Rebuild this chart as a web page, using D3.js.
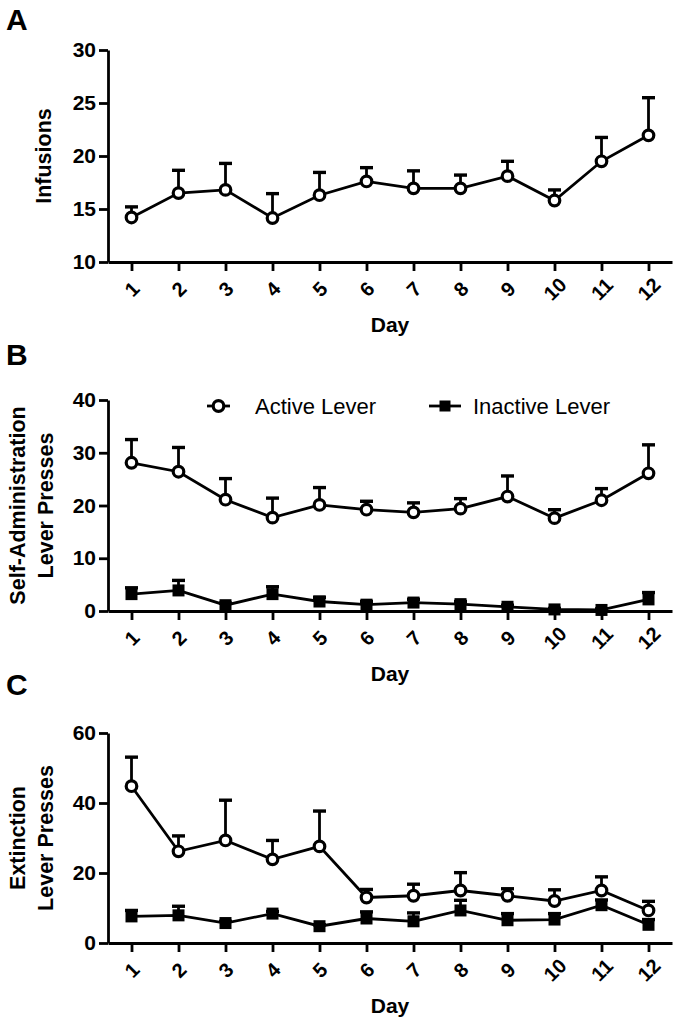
<!DOCTYPE html>
<html>
<head>
<meta charset="utf-8">
<script src="https://cdn.jsdelivr.net/npm/d3@7"></script>
<style>
  html, body { margin: 0; padding: 0; background: #fff; }
  svg { display: block; font-family: "Liberation Sans", Arial, sans-serif; }
</style>
</head>
<body>
<svg id="chart" width="675" height="1020"></svg>
<script>
// ---------------- DATA ----------------
const days = [1, 2, 3, 4, 5, 6, 7, 8, 9, 10, 11, 12];

const infusionsMean = [14.2, 16.5, 16.8, 14.15, 16.3, 17.6, 16.95, 16.95, 18.1, 15.8, 19.5, 21.95];
const infusionsSEM  = [1.0, 2.15, 2.5, 2.3, 2.15, 1.3, 1.65, 1.25, 1.4, 1.0, 2.25, 3.55];

const saActiveMean   = [28.1, 26.4, 21.1, 17.7, 20.1, 19.2, 18.7, 19.4, 21.7, 17.6, 21.0, 26.1];
const saActiveSEM    = [4.4, 4.6, 4.0, 3.7, 3.3, 1.6, 1.8, 1.9, 3.9, 1.6, 2.2, 5.4];
const saInactiveMean = [3.2, 3.9, 1.1, 3.2, 1.8, 1.2, 1.6, 1.3, 0.8, 0.3, 0.2, 2.2];
const saInactiveSEM  = [1.2, 1.9, 0.4, 1.4, 0.8, 0.6, 0.6, 0.5, 0.3, 0.2, 0.2, 1.3];

const extActiveMean   = [44.8, 26.2, 29.3, 23.9, 27.6, 13.0, 13.5, 15.0, 13.5, 12.0, 15.0, 9.3];
const extActiveSEM    = [8.3, 4.4, 11.5, 5.4, 10.1, 2.3, 3.3, 5.1, 2.0, 3.2, 3.9, 2.6];
const extInactiveMean = [7.6, 7.9, 5.7, 8.4, 4.8, 7.0, 6.2, 9.3, 6.5, 6.7, 10.8, 5.2];
const extInactiveSEM  = [1.7, 2.6, 0.5, 0.6, 0.4, 1.9, 2.4, 2.9, 1.9, 1.7, 1.5, 1.5];

const ticksA = [10, 15, 20, 25, 30];
const ticksB = [0, 10, 20, 30, 40];
const ticksC = [0, 20, 40, 60];

const legendLabels = ["Active Lever", "Inactive Lever"];
const xTitle = "Day";

// ---------------- DRAWING ----------------
const svg = d3.select("#chart");
const FONT = '"Liberation Sans", Arial, sans-serif';
const SW = 2.8;

const x = d3.scaleLinear().domain([0.5, 12.5]).range([108, 672]);

function drawPanel(opts) {
  const g = svg.append("g");
  const y = d3.scaleLinear().domain(opts.domain).range([opts.bottom, opts.top]);

  // x axis
  const xa = g.append("g")
    .attr("transform", `translate(0,${opts.bottom})`)
    .call(d3.axisBottom(x).tickValues(days).tickSize(9).tickSizeOuter(0).tickFormat(d3.format("d")));
  xa.select(".domain").attr("stroke", "#000").attr("stroke-width", SW);
  xa.selectAll(".tick line").attr("stroke", "#000").attr("stroke-width", SW);
  xa.selectAll(".tick text")
    .attr("y", 0).attr("dy", "0.35em")
    .attr("transform", "translate(0,27) rotate(-45)")
    .attr("text-anchor", "middle")
    .attr("font-family", FONT).attr("font-size", 20).attr("font-weight", "bold").attr("fill", "#000");

  // y axis
  const ya = g.append("g")
    .attr("transform", `translate(108,0)`)
    .call(d3.axisLeft(y).tickValues(opts.ticks).tickSize(9).tickSizeOuter(0).tickPadding(3).tickFormat(d3.format("d")));
  ya.select(".domain").attr("stroke", "#000").attr("stroke-width", SW);
  ya.selectAll(".tick line").attr("stroke", "#000").attr("stroke-width", SW);
  ya.selectAll(".tick text")
    .attr("font-family", FONT).attr("font-size", 21).attr("font-weight", "bold").attr("fill", "#000");

  // x title
  g.append("text")
    .attr("x", 390).attr("y", opts.bottom + 70)
    .attr("text-anchor", "middle")
    .attr("font-family", FONT).attr("font-size", 21).attr("font-weight", "bold")
    .text(xTitle);

  // y title
  const cy = (opts.top + opts.bottom) / 2;
  opts.yTitle.forEach((line, i) => {
    const cx = opts.yTitle.length === 1 ? 43 : (i === 0 ? 17 : 45);
    g.append("text")
      .attr("transform", `translate(${cx},${cy}) rotate(-90)`)
      .attr("dy", "0.35em")
      .attr("text-anchor", "middle")
      .attr("font-family", FONT).attr("font-size", 21.5).attr("font-weight", "bold")
      .text(line);
  });

  // panel letter
  g.append("text")
    .attr("x", 6).attr("y", opts.letterY)
    .attr("font-family", FONT).attr("font-size", 30).attr("font-weight", "bold")
    .text(opts.letter);

  // series
  opts.series.forEach(s => {
    const data = days.map((d, i) => ({ d, m: s.mean[i], e: s.sem[i] }));
    const sg = g.append("g");
    // error bars (upper only)
    sg.selectAll("line.err").data(data).join("line")
      .attr("x1", p => x(p.d)).attr("x2", p => x(p.d))
      .attr("y1", p => y(p.m)).attr("y2", p => y(p.m + p.e))
      .attr("stroke", "#000").attr("stroke-width", SW);
    sg.selectAll("line.cap").data(data).join("line")
      .attr("x1", p => x(p.d) - 6.5).attr("x2", p => x(p.d) + 6.5)
      .attr("y1", p => y(p.m + p.e)).attr("y2", p => y(p.m + p.e))
      .attr("stroke", "#000").attr("stroke-width", 3.4);
    // line
    sg.append("path").datum(data)
      .attr("d", d3.line().x(p => x(p.d)).y(p => y(p.m)))
      .attr("fill", "none").attr("stroke", "#000").attr("stroke-width", SW);
    // markers
    if (s.type === "circle") {
      sg.selectAll("circle").data(data).join("circle")
        .attr("cx", p => x(p.d)).attr("cy", p => y(p.m)).attr("r", 5.3)
        .attr("fill", "#fff").attr("stroke", "#000").attr("stroke-width", 3.2);
    } else {
      sg.selectAll("rect.mk").data(data).join("rect")
        .attr("x", p => x(p.d) - 6).attr("y", p => y(p.m) - 6)
        .attr("width", 12).attr("height", 12).attr("fill", "#000");
    }
  });
  return g;
}

drawPanel({
  letter: "A", letterY: 30, top: 50, bottom: 262, domain: [10, 30], ticks: ticksA,
  yTitle: ["Infusions"],
  series: [{ type: "circle", mean: infusionsMean, sem: infusionsSEM }]
});

drawPanel({
  letter: "B", letterY: 365, top: 400, bottom: 611, domain: [0, 40], ticks: ticksB,
  yTitle: ["Self-Administration", "Lever Presses"],
  series: [
    { type: "square", mean: saInactiveMean, sem: saInactiveSEM },
    { type: "circle", mean: saActiveMean, sem: saActiveSEM }
  ]
});

drawPanel({
  letter: "C", letterY: 695, top: 733, bottom: 943, domain: [0, 60], ticks: ticksC,
  yTitle: ["Extinction", "Lever Presses"],
  series: [
    { type: "square", mean: extInactiveMean, sem: extInactiveSEM },
    { type: "circle", mean: extActiveMean, sem: extActiveSEM }
  ]
});

// legend (panel B)
const lg = svg.append("g");
const legendY = 406;
const legendItems = [
  { label: legendLabels[0], type: "circle", x0: 207, x1: 230, tx: 255 },
  { label: legendLabels[1], type: "square", x0: 429, x1: 461, tx: 473 }
];
legendItems.forEach(it => {
  lg.append("line").attr("x1", it.x0).attr("x2", it.x1).attr("y1", legendY).attr("y2", legendY)
    .attr("stroke", "#000").attr("stroke-width", SW);
  const cx = (it.x0 + it.x1) / 2;
  if (it.type === "circle") {
    lg.append("circle").attr("cx", cx).attr("cy", legendY).attr("r", 5.3)
      .attr("fill", "#fff").attr("stroke", "#000").attr("stroke-width", 3.2);
  } else {
    lg.append("rect").attr("x", cx - 5.5).attr("y", legendY - 5.5).attr("width", 11).attr("height", 11).attr("fill", "#000");
  }
  lg.append("text").attr("x", it.tx).attr("y", legendY).attr("dy", "0.36em")
    .attr("font-family", FONT).attr("font-size", 22)
    .text(it.label);
});
</script>
</body>
</html>
